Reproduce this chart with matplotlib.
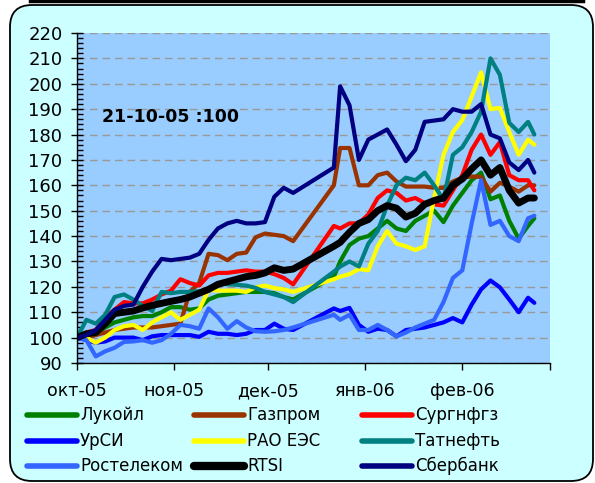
import matplotlib
matplotlib.use("Agg")
import matplotlib.pyplot as plt
from matplotlib.patches import FancyBboxPatch
from matplotlib.lines import Line2D
import numpy as np

# ---------------- data ----------------
# days since 1 Oct 2005
days = [0, 3, 6, 9, 12, 15, 18, 21, 24, 27, 30, 33, 36, 39, 42, 45, 48, 51, 54, 57,
        60, 63, 66, 69, 82, 84, 87, 90, 93, 96, 99, 102, 105, 108, 111, 114, 117,
        120, 123, 126, 129, 132, 135, 138, 141, 144, 146]

lukoil = [100, 101, 101.5, 104, 106, 107, 108, 108.5, 108.5, 110, 112, 112, 111, 111.5,
          115, 116.5, 117, 117.5, 118, 118, 118, 117.5, 116, 115, 124, 130, 136.5, 139,
          140, 143, 146, 143, 142, 146, 148, 150, 145.5, 152, 157, 162, 165, 154.5,
          156, 146, 139, 144, 147]
gazprom = [100, 100, 101, 102, 103, 103.5, 104, 104, 104, 104.5, 105, 105.5, 118, 121.5,
           133, 132.5, 130.5, 133, 133.5, 139.5, 141, 140.5, 140, 138, 160, 174.7, 174.7,
           160, 160, 164, 165, 161.5, 159.5, 159.5, 159.5, 159, 159, 161.5, 163, 163.5,
           163.3, 157.5, 161, 159.5, 157.5, 160, 160]
surgut = [100, 102, 103, 108, 111, 114, 113.5, 113.5, 115, 117, 118.5, 123, 121.5, 120.5,
          124.5, 125.5, 125.5, 126, 126.5, 126, 126, 125, 123.5, 121, 144, 143, 145, 145,
          148.5, 155, 158, 157, 154, 155, 153, 152.5, 152, 158, 164, 174, 180, 172, 177,
          164, 162, 162, 158]
uralsib = [100, 99, 98, 98.5, 100, 100, 100, 99, 100.5, 101, 101, 101, 101, 100.3, 102.3,
           101.5, 101.5, 101, 101.5, 103, 103, 105.5, 103.5, 103, 111.5, 110.5, 111.7,
           105, 102.3, 103.5, 103, 100.5, 103, 103.5, 104, 105, 106, 107.7, 106, 113, 119,
           122.5, 119.8, 115, 110, 115.7, 113.7]
rao_ees = [100, 100, 98, 100, 103, 104.5, 105, 103, 106, 108, 110, 107, 109, 111, 118.8,
           118.5, 118.5, 118.5, 118, 119.8, 120.5, 119.5, 119, 118, 123, 124, 125, 127,
           126.5, 136, 142, 137, 136, 134.5, 136, 155, 172, 181, 185.7, 195, 204.5, 190,
           190.5, 181, 172, 178, 176]
tatneft = [100, 107, 105.5, 109, 116, 117, 115, 112.5, 110.5, 118, 117.5, 118, 118, 118.3,
           118.8, 121.5, 121, 120.8, 120.5, 119.6, 118, 117, 116, 114, 126, 128, 130, 128,
           137, 142, 152, 160, 163, 162, 165, 160, 154.3, 172, 175, 181, 189, 210, 203.5,
           184.6, 181, 185, 180]
rostelecom = [100, 99, 92.6, 94.6, 96, 98.3, 98.5, 99, 98, 99, 101.5, 105, 104.5, 103.5,
              111.5, 108, 103.5, 106.5, 104, 102.5, 102.3, 102.5, 103, 104, 109, 107, 109,
              103, 103, 105, 103, 100.5, 102, 104, 105.5, 107, 114, 123.5, 126.5, 145, 162,
              144.4, 146, 140, 138, 147, 148]
rtsi = [100, 101.5, 102, 105.5, 109.5, 110, 110.5, 111.7, 112.7, 113.5, 114.3, 115, 116,
        117.5, 119, 121, 122, 123, 124, 124.5, 125.5, 127.5, 126.5, 127, 136, 137.5, 141.5,
        145, 146.5, 150, 152, 151, 147.5, 149, 152.5, 154, 155, 160, 162.5, 166.5, 170,
        164, 167, 158, 153, 155, 155]
sberbank = [100, 101, 103, 107, 111, 112.5, 113, 120, 126, 131, 130.5, 131, 131.5, 133,
            138.5, 143, 145, 146, 145, 145, 145.5, 155.5, 159, 157, 167, 199, 191.5, 170,
            178, 180, 182, 176, 169.5, 174, 185, 185.5, 186, 190, 189, 189, 192, 180, 178.5,
            169, 166, 170, 165]

series_names = ["Лукойл", "Газпром", "Сургнфгз", "УрСИ", "РАО ЕЭС", "Татнефть",
                "Ростелеком", "RTSI", "Сбербанк"]
series_values = [lukoil, gazprom, surgut, uralsib, rao_ees, tatneft, rostelecom, rtsi, sberbank]
series_colors = ["#008000", "#993300", "#FF0000", "#0000FF", "#FFFF00", "#008080",
                 "#3366FF", "#000000", "#000080"]

month_ticks = [0, 31, 61, 92, 123, 151]
month_labels = ["окт-05", "ноя-05", "дек-05", "янв-06", "фев-06", ""]
note_text = "21-10-05 :100"

# ---------------- figure ----------------
W, H = 595, 483
fig = plt.figure(figsize=(W / 100, H / 100), dpi=100)
fig.patch.set_facecolor("white")

# outer rounded frame (in inches)
box = FancyBboxPatch((0.10, 0.02), 5.83, 4.76,
                     boxstyle="round,pad=0,rounding_size=0.22",
                     transform=fig.dpi_scale_trans, facecolor="#CCFFFF",
                     edgecolor="black", linewidth=1.3, zorder=-10)
fig.add_artist(box)
fig.add_artist(Line2D([0.30, 5.83], [4.815, 4.815], transform=fig.dpi_scale_trans,
                      color="black", linewidth=2.5, zorder=-5))

ax = fig.add_axes([77 / W, 1 - 363 / H, 473 / W, 330 / H])
ax.set_zorder(1)
ax.set_facecolor("#99CCFF")
ax.set_xlim(0, 151)
ax.set_ylim(90, 220)

for s in ["top", "right"]:
    ax.spines[s].set_visible(False)
for s in ["left", "bottom"]:
    ax.spines[s].set_color("black")
    ax.spines[s].set_linewidth(1.0)

ax.set_yticks(np.arange(90, 221, 10))
ax.set_yticks(np.arange(90, 221, 2), minor=True)
ax.set_xticks(month_ticks)
ax.set_xticklabels(month_labels)
ax.tick_params(axis="y", which="major", direction="inout", length=9, width=1,
               labelsize=13, pad=6)
ax.tick_params(axis="y", which="minor", direction="in", length=4, width=1)
ax.tick_params(axis="x", which="major", direction="out", length=5, width=1,
               labelsize=12.5, pad=9)

ax.grid(axis="y", which="major", color="#999999", linewidth=1,
        linestyle=(0, (5.5, 3.5)), zorder=0.5)
ax.set_axisbelow(True)

for name, vals, col in zip(series_names, series_values, series_colors):
    lw = 5.0 if name == "RTSI" else 3.0
    ax.plot(days, vals, color=col, linewidth=lw, solid_joinstyle="round",
            solid_capstyle="round", label=name)

fig.text(171 / W, 1 - 117 / H, note_text, ha="center", va="center",
         fontsize=12.5, fontweight="bold", zorder=5)

# legend, 3 columns x 3 rows (row-major order as in original)
col_x = [27, 194, 362]
row_y = [415, 441, 466]
for i, (name, col) in enumerate(zip(series_names, series_colors)):
    r, c = divmod(i, 3)
    x0 = col_x[c]
    y0 = row_y[r]
    lw = 6 if name == "RTSI" else 4
    fig.add_artist(Line2D([x0 / W, (x0 + 50) / W], [1 - y0 / H, 1 - y0 / H],
                          transform=fig.transFigure, color=col, linewidth=lw,
                          solid_capstyle="round"))
    fig.text((x0 + 53) / W, 1 - y0 / H, name, ha="left", va="center", fontsize=12)

fig.savefig("out.png", dpi=100)
